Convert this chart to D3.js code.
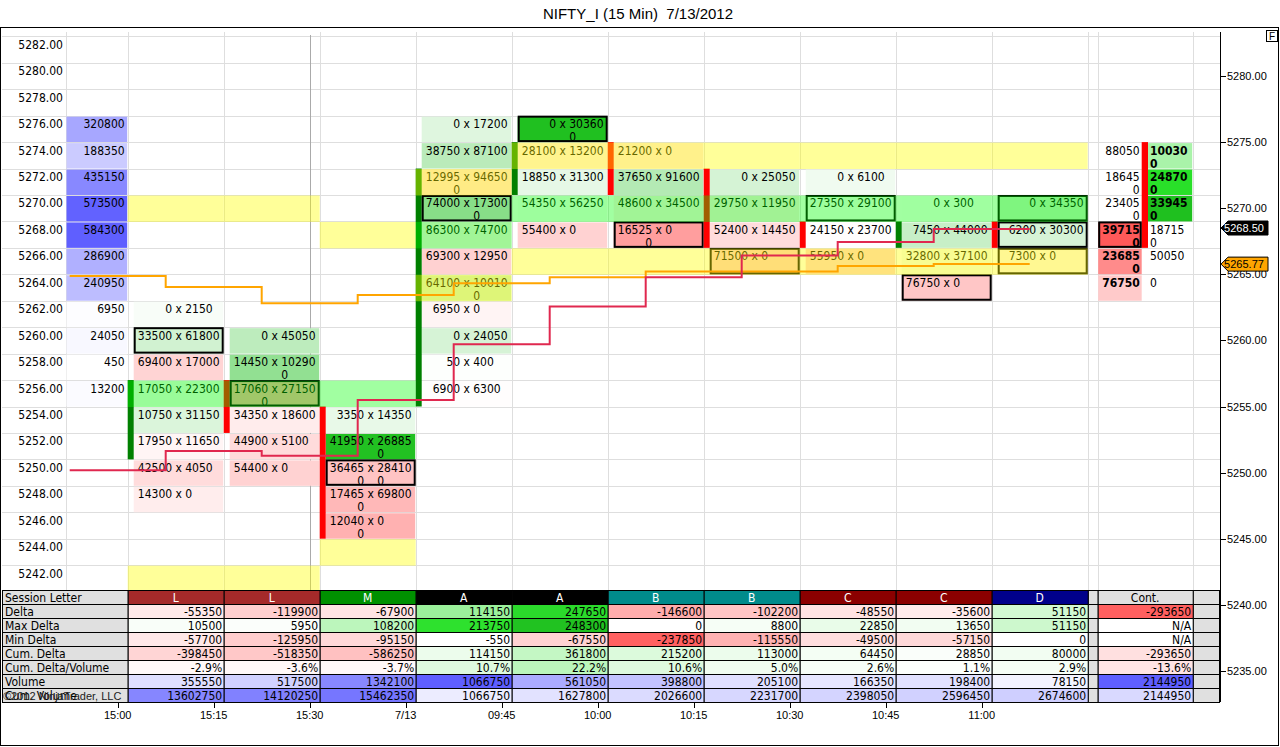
<!DOCTYPE html>
<html>
<head>
<meta charset="utf-8">
<script src="https://cdn.jsdelivr.net/npm/d3@7"></script>
<style>
  body { margin: 0; background: #fff; }
  svg { display: block; }
</style>
</head>
<body>
<script>
// ---- data ----
var title = "NIFTY_I (15 Min)  7/13/2012";
var priceRows = [5282, 5280, 5278, 5276, 5274, 5272, 5270, 5268, 5266, 5264, 5262,
                 5260, 5258, 5256, 5254, 5252, 5250, 5248, 5246, 5244, 5242];
var rightTicks = [5280, 5275, 5270, 5265, 5260, 5255, 5250, 5245, 5240, 5235];
var timeLabels = ["15:00", "15:15", "15:30", "7/13", "09:45", "10:00", "10:15", "10:30", "10:45", "11:00"];
var sessionLetters = ["L", "L", "M", "A", "A", "B", "B", "C", "C", "D"];

// volume profile (left column)
var profilePrice = [5276, 5274, 5272, 5270, 5268, 5266, 5264, 5262, 5260, 5258, 5256];
var profileVolume = [320800, 188350, 435150, 573500, 584300, 286900, 240950, 6950, 24050, 450, 13200];

// footprint cells per bar: [price, bid, ask]
var bar1 = [[5262, 0, 2150], [5260, 33500, 61800], [5258, 69400, 17000], [5256, 17050, 22300],
            [5254, 10750, 31150], [5252, 17950, 11650], [5250, 42500, 4050], [5248, 14300, 0]];
var bar2 = [[5260, 0, 45050], [5258, 14450, 102900], [5256, 170600, 27150], [5254, 34350, 18600],
            [5252, 44900, 5100], [5250, 54400, 0]];
var bar3 = [[5254, 3350, 14350], [5252, 41950, 268850], [5250, 364650, 284100], [5248, 174650, 69800],
            [5246, 120400, 0]];
var bar4 = [[5276, 0, 17200], [5274, 38750, 87100], [5272, 129950, 94650], [5270, 74000, 173000],
            [5268, 86300, 74700], [5266, 69300, 12950], [5264, 64100, 100100], [5262, 6950, 0],
            [5260, 0, 24050], [5258, 50, 400], [5256, 6900, 6300]];
var bar5 = [[5276, 0, 303600], [5274, 28100, 13200], [5272, 18850, 31300], [5270, 54350, 56250], [5268, 55400, 0]];
var bar6 = [[5274, 21200, 0], [5272, 37650, 91600], [5270, 48600, 34500], [5268, 165250, 0]];
var bar7 = [[5272, 0, 25050], [5270, 29750, 11950], [5268, 52400, 14450], [5266, 71500, 0]];
var bar8 = [[5272, 0, 6100], [5270, 27350, 29100], [5268, 24150, 23700], [5266, 55950, 0]];
var bar9 = [[5270, 0, 300], [5268, 7450, 44000], [5266, 32800, 37100], [5264, 76750, 0]];
var bar10 = [[5270, 0, 34350], [5268, 6200, 30300], [5266, 7300, 0]];
var bars = [bar1, bar2, bar3, bar4, bar5, bar6, bar7, bar8, bar9, bar10];

// boxed (POC) cells per bar
var boxedCells = [[5260], [5256], [5250], [5270], [5276], [5268], [5266], [5270], [5264], [5270, 5268, 5266]];

// candle body strip
var candleOpen = [5252, 5256, 5254, 5256, 5272, 5274, 5272, 5268, 5268, 5268];
var candleClose = [5256, 5254, 5246, 5272, 5274, 5272, 5268, 5268, 5268, 5268];
var candleUp = [true, false, false, true, true, false, false, false, true, false];

// developing value area high / low and POC per bar
var vaHigh = [5270, 5270, 5268, 5272, 5274, 5274, 5274, 5274, 5274, 5274];
var vaLow = [5242, 5242, 5244, 5264, 5266, 5266, 5266, 5266, 5266, 5266];
var pocLevel = [5256, 5256, 5256, 5268, 5270, 5270, 5270, 5270, 5270, 5270];

// step lines
var orangeLine = [5264.87, 5264.04, 5262.81, 5263.43, 5264.32, 5264.77, 5265.21, 5265.21, 5265.63, 5265.77];
var crimsonLine = [5250.17, 5251.63, 5251.28, 5255.49, 5259.70, 5262.56, 5264.77, 5266.42, 5267.44, 5268.43];
var lastPrice = 5268.50;
var orangeLast = 5265.77;

// continuous column
var contPrice = [5274, 5272, 5270, 5268, 5266, 5264];
var contBid = [88050, 186450, 234050, 397150, 236850, 76750];
var contAsk = [100300, 248700, 339450, 187150, 50050, 0];
var contOpen = 5274, contClose = 5268;

// bottom table (last value = Cont.)
var rowLabels = ["Session Letter", "Delta", "Max Delta", "Min Delta", "Cum. Delta", "Cum. Delta/Volume", "Volume", "Cum. Volume"];
var deltaRow = [-55350, -119900, -67900, 114150, 247650, -146600, -102200, -48550, -35600, 51150, -293650];
var maxDeltaRow = [10500, 5950, 108200, 213750, 248300, 0, 8800, 22850, 13650, 51150, null];
var minDeltaRow = [-57700, -125950, -95150, -550, -67550, -237850, -115550, -49500, -57150, 0, null];
var cumDeltaRow = [-398450, -518350, -586250, 114150, 361800, 215200, 113000, 64450, 28850, 80000, -293650];
var cumDeltaVolRow = [-2.9, -3.6, -3.7, 10.7, 22.2, 10.6, 5.0, 2.6, 1.1, 2.9, -13.6];
var volumeRow = [355550, 517500, 1342100, 1066750, 561050, 398800, 205100, 166350, 198400, 78150, 2144950];
var cumVolumeRow = [13602750, 14120250, 15462350, 1066750, 1627800, 2026600, 2231700, 2398050, 2596450, 2674600, 2144950];

// ---- layout ----
var W = 1280, H = 747;
var FONT = "'DejaVu Sans Condensed','DejaVu Sans',sans-serif";
var ARIAL = "'Liberation Sans',Arial,sans-serif";

var svg = d3.select("body").append("svg").attr("width", W).attr("height", H)
    .style("font-family", FONT).style("font-stretch", "condensed");

var x = d3.scaleBand().domain(d3.range(10)).range([127.7, 1087.7]);
var step = x.step();
var y = d3.scaleLinear().domain([5240, 5280]).range([604.8, 76]);
var rowH = y(5240) - y(5242);
function rowTop(p) { return y(p) - rowH / 2; }
var plotTop = 32, plotBottom = 590, axisX = 1220;
var contLeft = 1097.7, contRight = 1192.7;

// cell colours
var cellGreen = d3.scalePow().exponent(0.75).domain([0, 230000]).range(["#ffffff", "#20c020"]).clamp(true);
var cellRed = d3.scalePow().exponent(0.7).domain([0, 200000]).range(["#ffffff", "#ff9090"]).clamp(true);
function cellFill(d) { return d > 0 ? cellGreen(d) : d < 0 ? cellRed(-d) : "#ffffff"; }
var profileBlue = d3.scaleLinear().domain([0, d3.max(profileVolume)]).range(["#ffffff", "#5f5fff"]);

function numLines(v) {
  var s = String(v);
  return s.length > 5 ? [s.slice(0, 5), s.slice(5)] : [s];
}

// frame + title
svg.append("rect").attr("x", 0.5).attr("y", 27.5).attr("width", 1278).attr("height", 718)
  .attr("fill", "#fff").attr("stroke", "#000");
svg.append("text").attr("x", 638).attr("y", 19).attr("text-anchor", "middle")
  .style("white-space", "pre")
  .style("font-family", ARIAL).style("font-size", "15px").style("font-stretch", "normal").text(title);

// grid
var grid = svg.append("g").attr("stroke", "#dedede").attr("stroke-width", 1);
grid.selectAll(".h").data(priceRows).enter().append("line")
  .attr("x1", 2).attr("x2", axisX)
  .attr("y1", function(p) { return Math.round(rowTop(p)) + 0.5; })
  .attr("y2", function(p) { return Math.round(rowTop(p)) + 0.5; });
var vlines = [66].concat(d3.range(10).map(function(i) { return x(i); }), [1087.7, contLeft, contRight]);
grid.selectAll(".v").data(vlines).enter().append("line")
  .attr("x1", function(d) { return Math.round(d) + 0.5; }).attr("x2", function(d) { return Math.round(d) + 0.5; })
  .attr("y1", plotTop).attr("y2", plotBottom);
// session break
svg.append("line").attr("x1", Math.round(x(2) - 10) + 0.5).attr("x2", Math.round(x(2) - 10) + 0.5)
  .attr("y1", 35).attr("y2", plotBottom).attr("stroke", "#aaa");

// volume profile
var prof = svg.append("g");
prof.selectAll("rect").data(profilePrice).enter().append("rect")
  .attr("x", 66.5).attr("width", x(0) - 67)
  .attr("y", function(p) { return rowTop(p) + 1; }).attr("height", rowH - 1)
  .attr("fill", function(p, i) { return profileBlue(profileVolume[i]); });
prof.selectAll("text").data(profilePrice).enter().append("text")
  .attr("x", x(0) - 3).attr("y", function(p) { return rowTop(p) + 12.5; })
  .attr("text-anchor", "end").style("font-size", "12px")
  .text(function(p, i) { return profileVolume[i]; });

// footprint cells
var fp = svg.append("g");
bars.forEach(function(bar, i) {
  var left = x(i) + 6, w = step - 6, cx = left + w / 2;
  var g = fp.append("g");
  g.selectAll("rect").data(bar).enter().append("rect")
    .attr("x", left).attr("width", w - 0.5)
    .attr("y", function(d) { return rowTop(d[0]) + 1; }).attr("height", rowH - 1)
    .attr("fill", function(d) { return cellFill(d[2] - d[1]); });
  bar.forEach(function(d) {
    var t = rowTop(d[0]);
    numLines(d[1]).forEach(function(s, k) {
      g.append("text").attr("x", cx - 6.5).attr("y", t + 12.5 + k * 13).attr("text-anchor", "end")
        .style("font-size", "12px").text(s);
    });
    g.append("text").attr("x", cx).attr("y", t + 12.5).attr("text-anchor", "middle")
      .style("font-size", "12px").text("x");
    numLines(d[2]).forEach(function(s, k) {
      g.append("text").attr("x", cx + 6.5).attr("y", t + 12.5 + k * 13).attr("text-anchor", "start")
        .style("font-size", "12px").text(s);
    });
  });
  // candle strip
  var hi = Math.max(candleOpen[i], candleClose[i]), lo = Math.min(candleOpen[i], candleClose[i]);
  g.append("rect").attr("x", x(i)).attr("width", 6)
    .attr("y", rowTop(hi)).attr("height", y(lo) - y(hi) + rowH)
    .attr("fill", candleUp[i] ? "#008000" : "#ff0000");
  // boxes
  g.selectAll(".box").data(boxedCells[i]).enter().append("rect")
    .attr("x", left + 1).attr("width", w - 2)
    .attr("y", function(p) { return rowTop(p) + 1; }).attr("height", rowH - 2)
    .attr("fill", "none").attr("stroke", "#000").attr("stroke-width", 2);
});

// value area / POC bands (translucent, on top)
var bands = svg.append("g");
d3.range(10).forEach(function(i) {
  [vaHigh[i], vaLow[i]].forEach(function(p) {
    bands.append("rect").attr("x", x(i)).attr("width", step).attr("y", rowTop(p) + 0.5).attr("height", rowH)
      .attr("fill", "#ffff00").attr("fill-opacity", 0.4);
  });
  bands.append("rect").attr("x", x(i)).attr("width", step).attr("y", rowTop(pocLevel[i]) + 0.5).attr("height", rowH)
    .attr("fill", "#00ff00").attr("fill-opacity", 0.37);
});

// step lines
function stepPoints(vals) {
  var pts = vals.map(function(v, i) { return [x(i) - 10 - step / 2, y(v)]; });
  pts.push([x(vals.length - 1) - 10 + step / 2, y(vals[vals.length - 1])]);
  return pts;
}
var stepLine = d3.line().curve(d3.curveStepAfter);
svg.append("path").attr("d", stepLine(stepPoints(orangeLine)))
  .attr("fill", "none").attr("stroke", "#ffa500").attr("stroke-width", 2);
svg.append("path").attr("d", stepLine(stepPoints(crimsonLine)))
  .attr("fill", "none").attr("stroke", "#e0284f").attr("stroke-width", 2);

// continuous column
var contRed = d3.scalePow().exponent(0.7).domain([0, 400000]).range(["#ffffff", "#ff5858"]).clamp(true);
var contGreen = d3.scaleLinear().domain([0, 250000, 340000]).range(["#ffffff", "#28e028", "#1fc01f"]).clamp(true);
var cont = svg.append("g");
var cSplit = 1141.7, cRight = 1148;
contPrice.forEach(function(p, i) {
  var t = rowTop(p), bid = contBid[i], ask = contAsk[i];
  var bidWins = bid > ask, askWins = ask > bid;
  if (bidWins) cont.append("rect").attr("x", contLeft + 0.5).attr("width", cSplit - contLeft - 0.5)
    .attr("y", t + 1).attr("height", rowH - 1).attr("fill", contRed(bid));
  if (askWins) cont.append("rect").attr("x", cRight).attr("width", contRight - cRight - 0.5)
    .attr("y", t + 1).attr("height", rowH - 1).attr("fill", contGreen(ask));
  numLines(bid).forEach(function(s, k) {
    cont.append("text").attr("x", cSplit - 2).attr("y", t + 12.5 + k * 13).attr("text-anchor", "end")
      .style("font-size", "12px").style("font-weight", bidWins ? "bold" : "normal").text(s);
  });
  numLines(ask).forEach(function(s, k) {
    cont.append("text").attr("x", cRight + 2).attr("y", t + 12.5 + k * 13).attr("text-anchor", "start")
      .style("font-size", "12px").style("font-weight", askWins ? "bold" : "normal").text(s);
  });
});
cont.append("rect").attr("x", cSplit).attr("width", cRight - cSplit)
  .attr("y", rowTop(contOpen)).attr("height", y(contClose) - y(contOpen) + rowH).attr("fill", "#ff0000");
cont.append("rect").attr("x", contLeft + 1.5).attr("width", cSplit - contLeft - 2.5)
  .attr("y", rowTop(5268) + 1).attr("height", rowH - 2)
  .attr("fill", "none").attr("stroke", "#000").attr("stroke-width", 2);

// left price labels
svg.append("g").selectAll("text").data(priceRows).enter().append("text")
  .attr("x", 63).attr("y", function(p) { return rowTop(p) + 12.5; })
  .attr("text-anchor", "end").style("font-size", "12px")
  .text(d3.format(".2f"));

// right axis
var ra = svg.append("g").style("font-family", ARIAL).style("font-stretch", "normal").style("font-size", "11px");
ra.append("line").attr("x1", axisX + 0.5).attr("x2", axisX + 0.5).attr("y1", plotTop).attr("y2", 702).attr("stroke", "#000");
ra.selectAll(".t").data(rightTicks).enter().append("line")
  .attr("x1", axisX).attr("x2", axisX + 6)
  .attr("y1", function(v) { return Math.round(y(v)) + 0.5; }).attr("y2", function(v) { return Math.round(y(v)) + 0.5; })
  .attr("stroke", "#000");
ra.selectAll("text").data(rightTicks).enter().append("text")
  .attr("x", axisX + 7).attr("y", function(v) { return y(v) + 4; }).text(d3.format(".2f"));

function priceTag(v, fill, color) {
  var yy = y(v);
  ra.append("path")
    .attr("d", "M" + (axisX + 1) + "," + yy + "L" + (axisX + 8) + "," + (yy - 7) + "L1268," + (yy - 7) +
      "L1268," + (yy + 7) + "L" + (axisX + 8) + "," + (yy + 7) + "Z")
    .attr("fill", fill).attr("stroke", "#000");
  ra.append("text").attr("x", 1244).attr("y", yy + 4).attr("text-anchor", "middle")
    .attr("fill", color).text(d3.format(".2f")(v));
}
priceTag(lastPrice, "#000", "#fff");
priceTag(orangeLast, "#ffa500", "#000");

// F box
svg.append("rect").attr("x", 1266.5).attr("y", 30.5).attr("width", 11).attr("height", 11)
  .attr("fill", "#fff").attr("stroke", "#000");
svg.append("text").attr("x", 1272).attr("y", 39.5).attr("text-anchor", "middle")
  .style("font-family", ARIAL).style("font-size", "10px").style("font-stretch", "normal").text("F");

// ---- table ----
var tableTop = 590, tRow = 14;
var green = d3.scaleLinear().domain([0, 0.85, 1]).range(["#ffffff", "#2ee22e", "#20c020"]).clamp(true);
var red = d3.scaleLinear().domain([0, 1]).range(["#ffffff", "#ff6060"]).clamp(true);
var blue = d3.scaleLinear().domain([0, 1]).range(["#ffffff", "#5f5fff"]).clamp(true);
var sessionColor = { L: "#a52a2a", M: "#009000", A: "#000000", B: "#008b8b", C: "#8b0000", D: "#00008b" };
// saturation reference per row: [previous session, today]
var tableRows = [
  { vals: deltaRow, max: [400000, 280000], kind: "delta" },
  { vals: maxDeltaRow, max: [400000, 250000], kind: "delta" },
  { vals: minDeltaRow, max: [400000, 240000], kind: "delta" },
  { vals: cumDeltaRow, max: [1500000, 1500000], kind: "delta" },
  { vals: cumDeltaVolRow, max: [80, 80], kind: "pct" },
  { vals: volumeRow, max: [1800000, 1066750], kind: "vol" },
  { vals: cumVolumeRow, max: [18000000, 9000000], kind: "vol" }
];
var colX = d3.range(10).map(function(i) { return [x(i), x(i) + step]; });
colX.push([contLeft, contRight]);

var tb = svg.append("g").style("font-size", "12px");
function cell(x0, x1, yy, fill) {
  tb.append("rect").attr("x", x0 + 0.5).attr("y", yy + 0.5).attr("width", x1 - x0).attr("height", tRow)
    .attr("fill", fill).attr("stroke", "#000");
}
rowLabels.forEach(function(lbl, r) {
  var yy = tableTop + r * tRow;
  cell(2, x(0), yy, "#e0e0e0");
  cell(1087.7, contLeft, yy, "#e0e0e0");
  cell(contRight, axisX - 1, yy, "#e0e0e0");
  tb.append("text").attr("x", 5).attr("y", yy + 11.5).text(lbl);
});
// session letter row
sessionLetters.forEach(function(s, i) {
  cell(colX[i][0], colX[i][1], tableTop, sessionColor[s]);
  tb.append("text").attr("x", (colX[i][0] + colX[i][1]) / 2).attr("y", tableTop + 11.5)
    .attr("text-anchor", "middle").attr("fill", "#fff").text(s);
});
cell(contLeft, contRight, tableTop, "#e0e0e0");
tb.append("text").attr("x", (contLeft + contRight) / 2).attr("y", tableTop + 11.5)
  .attr("text-anchor", "middle").text("Cont.");

tableRows.forEach(function(row, r) {
  var yy = tableTop + (r + 1) * tRow;
  row.vals.forEach(function(v, c) {
    var m = row.max[c < 3 ? 0 : 1];
    var fill = "#ffffff";
    if (v != null) {
      if (row.kind === "vol") fill = blue(v / m);
      else if (v > 0) fill = green(v / m);
      else if (v < 0) fill = red(-v / m);
    }
    cell(colX[c][0], colX[c][1], yy, fill);
    var txt = v == null ? "N/A" : row.kind === "pct" ? v.toFixed(1) + "%" : String(v);
    tb.append("text").attr("x", colX[c][1] - 1.5).attr("y", yy + 11.5).attr("text-anchor", "end").text(txt);
  });
});
svg.append("text").attr("x", 3).attr("y", tableTop + 7 * tRow + 11.5)
  .style("font-family", ARIAL).style("font-size", "11px").style("font-stretch", "normal")
  .attr("fill", "#222").text("\u00a92012 NinjaTrader, LLC");

// time axis
var ta = svg.append("g").style("font-family", ARIAL).style("font-size", "11px").style("font-stretch", "normal");
ta.selectAll("line").data(timeLabels).enter().append("line")
  .attr("x1", function(d, i) { return Math.round(x(i) - 10) + 0.5; })
  .attr("x2", function(d, i) { return Math.round(x(i) - 10) + 0.5; })
  .attr("y1", 703).attr("y2", 708).attr("stroke", "#000");
ta.selectAll("text").data(timeLabels).enter().append("text")
  .attr("x", function(d, i) { return x(i) - 10; }).attr("y", 719)
  .attr("text-anchor", "middle").text(function(d) { return d; });
</script>
</body>
</html>
